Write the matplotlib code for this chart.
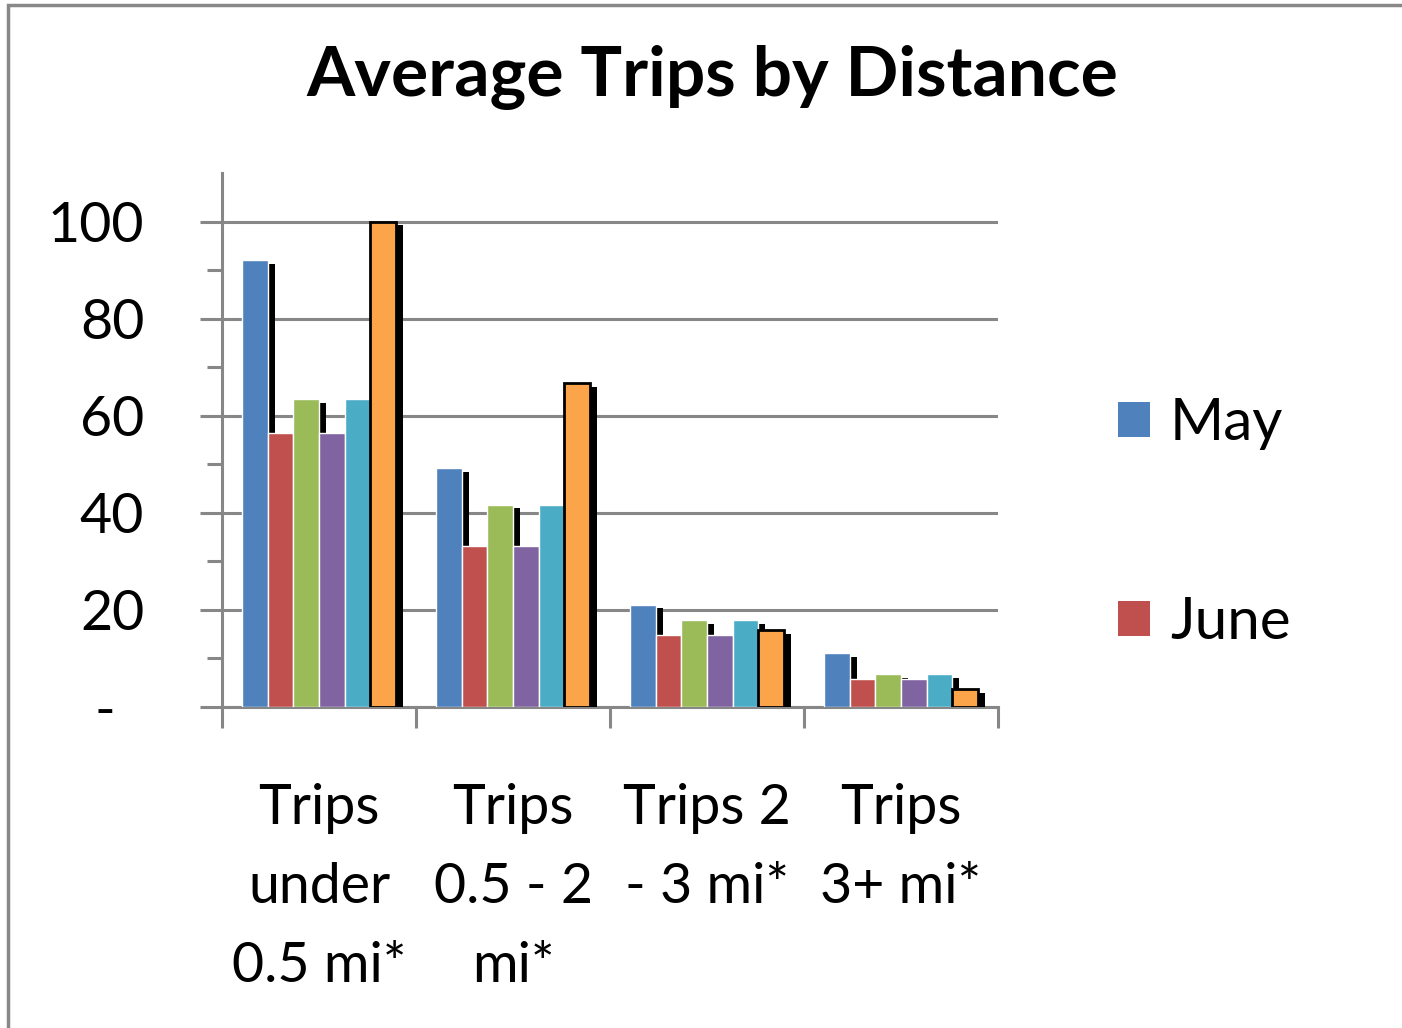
import matplotlib.pyplot as plt
import numpy as np
from matplotlib.patches import Patch, Rectangle
from matplotlib.ticker import FuncFormatter, FixedLocator

plt.rcParams['font.family'] = ['Lato', 'DejaVu Sans']

# data
categories = ['Trips\nunder\n0.5 mi*', 'Trips\n0.5 - 2\nmi*', 'Trips 2\n- 3 mi*', 'Trips\n3+ mi*']
series_names = ['May', 'June', 'Series 3', 'Series 4', 'Series 5', 'Series 6']
may = [92.1, 49.2, 21.1, 11.2]
june = [56.4, 33.1, 14.9, 5.8]
s3 = [63.4, 41.7, 18.0, 6.8]
s4 = [56.4, 33.1, 14.9, 5.8]
s5 = [63.4, 41.7, 18.0, 6.8]
s6 = [100.0, 66.7, 15.9, 3.7]
colors = ['#4F81BD', '#C0504D', '#9BBB59', '#8064A2', '#4BACC6', '#FBA449']

all_series = [may, june, s3, s4, s5, s6]

fig = plt.figure(figsize=(14.02, 10.28), dpi=100)
ax = fig.add_axes([222 / 1402, 1 - 707 / 1028, (998 - 222) / 1402, (707 - 173) / 1028])

grid_col = '#878787'
x = np.arange(len(categories))
w = 0.132
dx = 0.036
dy = 0.8

# bars with a drop shadow, each later series covering the previous shadow
for i, (vals, col) in enumerate(zip(all_series, colors)):
    pos = x + (i - 2.5) * w
    ax.bar(pos + dx, vals, w, bottom=-dy, color='black', zorder=3 + 2 * i)
    if i == 5:
        ax.bar(pos, vals, w, color=col, edgecolor='black', linewidth=2, zorder=4 + 2 * i)
    else:
        ax.bar(pos, vals, w, color=col, edgecolor='white', linewidth=1, zorder=4 + 2 * i)

ax.set_ylim(0, 110)
ax.set_xlim(-0.5, 3.5)
ax.yaxis.set_major_locator(FixedLocator([0, 20, 40, 60, 80, 100]))
ax.yaxis.set_minor_locator(FixedLocator([10, 30, 50, 70, 90]))
ax.yaxis.set_major_formatter(FuncFormatter(lambda v, p: '-  ' if v == 0 else '%d' % v))
ax.yaxis.grid(True, color=grid_col, linewidth=2.2, zorder=0)
ax.set_axisbelow(True)

ax.xaxis.set_major_locator(FixedLocator([-0.5, 0.5, 1.5, 2.5, 3.5]))
ax.xaxis.set_major_formatter(FuncFormatter(lambda v, p: ''))
ax.xaxis.set_minor_locator(FixedLocator(x))
ax.set_xticklabels(categories, minor=True, fontsize=40, linespacing=1.68)

ax.tick_params(axis='y', which='major', length=16, width=2.2, color=grid_col, labelsize=40, pad=40)
ax.tick_params(axis='y', which='minor', length=11, width=2.2, color=grid_col)
ax.tick_params(axis='x', which='major', length=15, width=2.2, color=grid_col)
ax.tick_params(axis='x', which='minor', length=0, pad=55)

for s in ['top', 'right']:
    ax.spines[s].set_visible(False)
for s in ['left', 'bottom']:
    ax.spines[s].set_color(grid_col)
    ax.spines[s].set_linewidth(2.2)

fig.text(0.508, 1 - 77 / 1028, 'Average Trips by Distance', ha='center', va='center',
         fontsize=50, fontweight='bold')

# legend is cut off in the original, only two entries show
handles = [Patch(facecolor=colors[0], edgecolor='none'), Patch(facecolor=colors[1], edgecolor='none')]
fig.legend(handles, series_names[:2], loc='upper left', bbox_to_anchor=(1065 / 1402, 1 - 345 / 1028),
           frameon=False, fontsize=42, handlelength=0.55, handleheight=0.55, handletextpad=0.35,
           labelspacing=2.5)

# outer chart border
fig.patches.append(Rectangle((8 / 1402, -0.1), 2, 1.1 - 5 / 1028, transform=fig.transFigure,
                             fill=False, edgecolor='#888888', linewidth=2.5))

fig.savefig('out.png', dpi=100)
